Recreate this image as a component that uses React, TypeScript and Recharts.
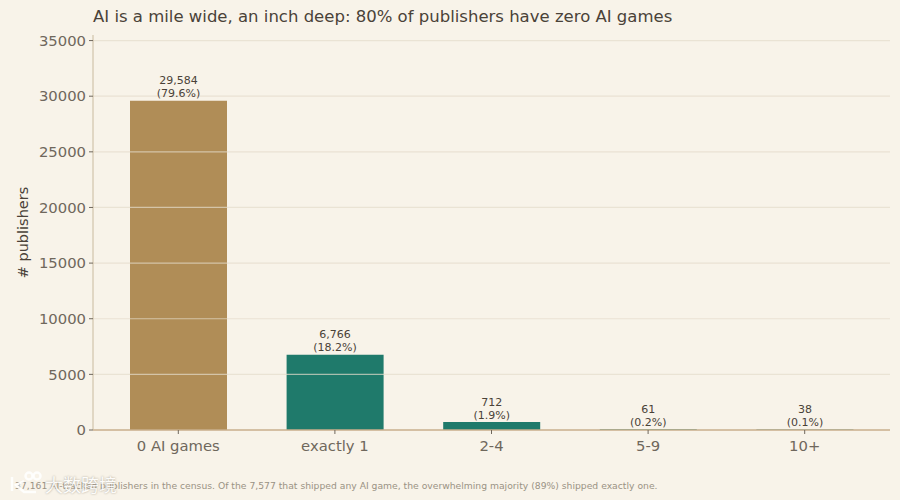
import React from 'react';
import { BarChart, Bar, Cell, XAxis, YAxis, ReferenceLine, LabelList, Label } from 'recharts';

const FONT = '"DejaVu Sans", sans-serif';

const categories = ['0 AI games', 'exactly 1', '2-4', '5-9', '10+'];
const publishers = [29584, 6766, 712, 61, 38];
const shares = ['79.6%', '18.2%', '1.9%', '0.2%', '0.1%'];
const barColors = ['#b08d57', '#1f7a6b', '#1f7a6b', '#1f7a6b', '#1f7a6b'];
const yTicks = [0, 5000, 10000, 15000, 20000, 25000, 30000, 35000];

const data = categories.map((name, i) => ({
  name,
  value: publishers[i],
  share: shares[i],
  color: barColors[i],
}));

function BarLabel({ x, y, width, index }: any) {
  const cx = x + width / 2;
  return (
    <text x={cx} textAnchor="middle" fontSize={11} fill="#4a4238" fontFamily={FONT}>
      <tspan x={cx} y={y - 16.5}>{publishers[index].toLocaleString('en-US')}</tspan>
      <tspan x={cx} y={y - 3.5}>({shares[index]})</tspan>
    </text>
  );
}

export default function App() {
  return (
    <div style={{ position: 'absolute', left: 0, top: 0, width: 900, height: 500, background: '#f8f3e9', overflow: 'hidden', fontFamily: FONT }}>
      <div style={{ position: 'absolute', left: 93, top: 7, fontSize: 16.5, color: '#4a4238', whiteSpace: 'nowrap' }}>
        AI is a mile wide, an inch deep: 80% of publishers have zero AI games
      </div>
      <BarChart
        width={900}
        height={500}
        data={data}
        margin={{ top: 35, right: 10, bottom: 40, left: 0 }}
        style={{ position: 'absolute', left: 0, top: 0 }}
      >
        <XAxis
          dataKey="name"
          padding={{ left: 7, right: 7 }}
          tick={{ fontSize: 14.8, fill: '#6f675c', fontFamily: FONT }}
          tickSize={4}
          tickMargin={6}
          tickLine={{ stroke: '#6f675c' }}
          axisLine={{ stroke: '#c9ae8c' }}
        />
        <YAxis
          width={93}
          type="number"
          domain={[0, 35500]}
          ticks={yTicks}
          interval={0}
          tick={{ fontSize: 14.8, fill: '#6f675c', fontFamily: FONT }}
          tickSize={4}
          tickMargin={3}
          tickLine={{ stroke: '#6f675c' }}
          axisLine={{ stroke: '#c9ba9e' }}
        >
          <Label
            value="# publishers"
            angle={-90}
            position="insideLeft"
            offset={23}
            style={{ fontSize: 14.5, fill: '#4a4238', fontFamily: FONT, textAnchor: 'middle' }}
          />
        </YAxis>
        <Bar dataKey="value" barSize={97} isAnimationActive={false}>
          {data.map((d) => (
            <Cell key={d.name} fill={d.color} />
          ))}
          <LabelList dataKey="value" content={<BarLabel />} />
        </Bar>
        {yTicks.slice(1).map((t) => (
          <ReferenceLine key={t} y={t} stroke="#e4dccb" strokeOpacity={0.7} strokeWidth={1.2} />
        ))}
        <ReferenceLine y={0} stroke="#c9ae8c" strokeWidth={1} />
      </BarChart>
      <div style={{ position: 'absolute', left: 15, top: 480, fontSize: 9.23, color: '#9a9284', whiteSpace: 'nowrap' }}>
        37,161 AI-tracked publishers in the census. Of the 7,577 that shipped any AI game, the overwhelming majority (89%) shipped exactly one.
      </div>
      {/* watermark that sits over the footnote in the source image */}
      <svg width={36} height={26} style={{ position: 'absolute', left: 8, top: 470 }}>
        <g fill="none" stroke="#ffffff" strokeOpacity={0.85} strokeWidth={2.5}>
          <circle cx={21} cy={6} r={3.5} />
          <circle cx={29} cy={6} r={3.5} />
          <path d="M4 7 V21 M16 11 L8 15 L16 22 H28" />
        </g>
      </svg>
      <div style={{ position: 'absolute', left: 45, top: 472, fontSize: 18, lineHeight: '24px', color: '#ffffff', opacity: 0.8, textShadow: '0 0 2px #8f8778', fontFamily: '"Noto Sans CJK SC", sans-serif', whiteSpace: 'nowrap' }}>
        大数跨境
      </div>
    </div>
  );
}
